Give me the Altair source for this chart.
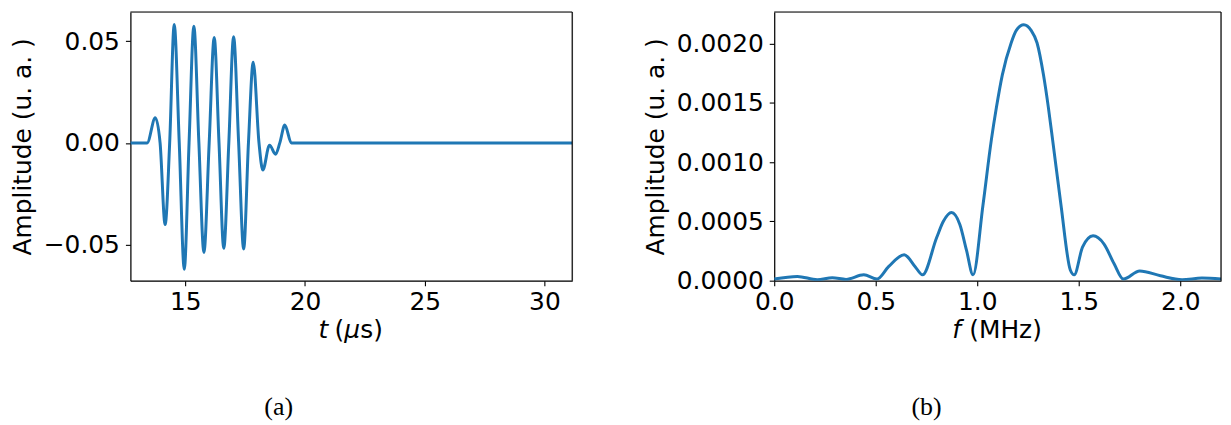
import altair as alt
import pandas as pd

# ---------------- data ----------------
# (a) time signal: time in microseconds, amplitude (a.u.)
t_us = [12.71, 13.41, 13.75, 13.95, 14.16, 14.35, 14.54, 14.75, 14.96, 15.16,
        15.36, 15.57, 15.78, 16.00, 16.21, 16.41, 16.61, 16.82, 17.02, 17.23,
        17.44, 17.64, 17.84, 18.08, 18.24, 18.52, 18.77, 18.95, 19.16, 19.43, 31.16]
amp_t = [0, 0, 0.0124, 0, -0.0402, 0, 0.0583, 0, -0.0622, 0,
         0.0574, 0, -0.0539, 0, 0.0519, 0, -0.0519, 0, 0.0522, 0,
         -0.0522, 0, 0.0397, 0, -0.0134, -0.0011, -0.0056, 0, 0.0088, 0, 0]

# (b) spectrum: frequency in MHz, amplitude (a.u.)
f_mhz = [0.0, 0.114, 0.212, 0.286, 0.354, 0.441, 0.506, 0.563, 0.640, 0.694,
         0.730, 0.800, 0.833, 0.873, 0.914, 0.947, 0.979, 1.028, 1.069, 1.094,
         1.123, 1.167, 1.192, 1.229, 1.265, 1.294, 1.326, 1.350, 1.371, 1.412,
         1.458, 1.477, 1.518, 1.570, 1.624, 1.673, 1.719, 1.800, 1.902, 2.008,
         2.106, 2.2]
amp_f = [1.4e-5, 3.6e-5, 0.8e-5, 2.5e-5, 1.1e-5, 4.9e-5, 1.4e-5, 1.18e-4, 2.19e-4, 1.18e-4,
         4.9e-5, 3.64e-4, 5.01e-4, 5.75e-4, 4.74e-4, 2.55e-4, 4.9e-5, 6.38e-4, 1.185e-3, 1.459e-3,
         1.733e-3, 2.006e-3, 2.11e-3, 2.157e-3, 2.11e-3, 2.006e-3, 1.733e-3, 1.459e-3, 1.185e-3, 6.38e-4,
         9.0e-5, 4.9e-5, 2.82e-4, 3.78e-4, 3.09e-4, 1.45e-4, 1.4e-5, 8.2e-5, 4.1e-5, 0.8e-5,
         2.2e-5, 1.4e-5]

t_ticks = [15, 20, 25, 30]
a_ticks = [-0.05, 0.0, 0.05]
f_ticks = [0.0, 0.5, 1.0, 1.5, 2.0]
s_ticks = [0.0, 0.0005, 0.0010, 0.0015, 0.0020]

y_title = "Amplitude (u. a. )"
captions = ["(a)", "(b)"]

# ---------------- layout ----------------
W1, W2, H = 444, 449, 270
BLUE = "#1f77b4"
FONT = "DejaVu Sans"
SERIF = "Liberation Serif"

axis_common = dict(
    labelFont=FONT, labelFontSize=25, labelColor="black",
    tickColor="black", tickSize=5, tickWidth=1.1,
    domainColor="black", domainWidth=1.2,
    grid=False, labelFlush=False, labelOverlap=False,
    titleFont=FONT, titleFontSize=25, titleColor="black", titleFontWeight="normal",
)

one = pd.DataFrame({"k": [0]})


def label(text, x, y, font=FONT, size=25, style="normal", align="left"):
    return alt.Chart(one).mark_text(
        text=text, font=font, fontSize=size, fontStyle=style,
        align=align, baseline="alphabetic", color="black",
    ).encode(x=alt.value(x), y=alt.value(y))


def panel(df, xf, yf, xdom, ydom, xticks, yticks, xfmt, yfmt, texts, width):
    xs = alt.Scale(domain=xdom, nice=False, zero=False)
    ys = alt.Scale(domain=ydom, nice=False, zero=False)
    line = alt.Chart(df).mark_line(
        color=BLUE, strokeWidth=3, interpolate="monotone", clip=True
    ).encode(
        x=alt.X(f"{xf}:Q", scale=xs,
                axis=alt.Axis(values=xticks, format=xfmt, title=None, labelPadding=4,
                              **axis_common)),
        y=alt.Y(f"{yf}:Q", scale=ys,
                axis=alt.Axis(values=yticks, format=yfmt, title=y_title, titlePadding=8,
                              labelPadding=6, **axis_common)),
    )
    # top and right spines of the axes box
    box = pd.DataFrame({"x0": [xdom[0]], "x1": [xdom[1]], "y0": [ydom[0]], "y1": [ydom[1]]})
    top = alt.Chart(box).mark_rule(color="black", strokeWidth=1.2).encode(
        x=alt.X("x0:Q", scale=xs), x2="x1:Q", y=alt.Y("y1:Q", scale=ys))
    right = alt.Chart(box).mark_rule(color="black", strokeWidth=1.2).encode(
        x=alt.X("x1:Q", scale=xs), y=alt.Y("y0:Q", scale=ys), y2="y1:Q")
    return alt.layer(line, top, right, *texts).properties(width=width, height=H)


panel_a = panel(
    pd.DataFrame({"t": t_us, "amp": amp_t}), "t", "amp",
    [12.71, 31.16], [-0.0678, 0.0644], t_ticks, a_ticks, "d", ".2f",
    [
        label("t", 189, H + 58, style="italic"),
        label("(", 205, H + 58),
        label("μ", 215, H + 58, style="italic"),
        label("s)", 231, H + 58),
        label(captions[0], 149, H + 135, font=SERIF, size=26, align="center"),
    ],
    W1,
)

panel_b = panel(
    pd.DataFrame({"f": f_mhz, "amp": amp_f}), "f", "amp",
    [0, 2.2], [0, 0.002265], f_ticks, s_ticks, ".1f", ".4f",
    [
        label("f", 179, H + 58, style="italic"),
        label("(MHz)", 196, H + 58),
        label(captions[1], 153, H + 135, font=SERIF, size=26, align="center"),
    ],
    W2,
)

chart = alt.hconcat(panel_a, panel_b, spacing=69).properties(
    padding={"left": 1, "top": 1, "right": 0, "bottom": 0}
).configure_view(
    strokeWidth=0
).configure(background="white")

chart.save("out.html", embed_options={"renderer": "svg", "actions": False})
